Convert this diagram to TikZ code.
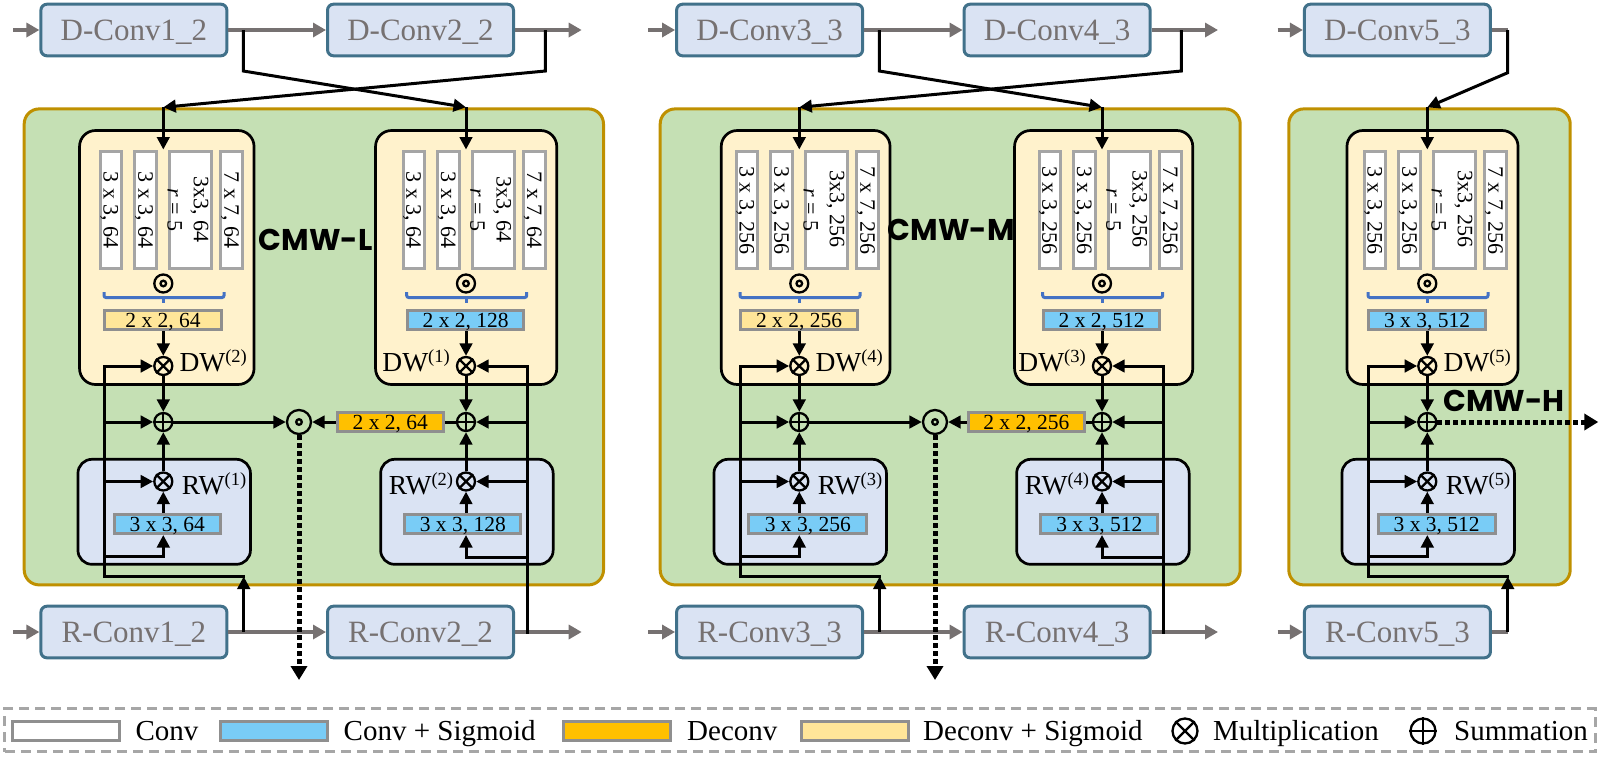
\documentclass[tikz,border=0pt]{standalone}
\usepackage{fontspec}
\setmainfont{Liberation Serif}
\newfontfamily\cmwfont{Poppins}
\usetikzlibrary{arrows.meta}
\definecolor{ggray}{HTML}{767171}
\definecolor{dblue}{HTML}{DAE3F3}
\definecolor{dborder}{HTML}{41718A}
\definecolor{pgreen}{HTML}{C5E0B4}
\definecolor{pgold}{HTML}{BF9000}
\definecolor{pyellow}{HTML}{FFF2CC}
\definecolor{colgray}{HTML}{A5A5A5}
\definecolor{kgray}{HTML}{8F8F8F}
\definecolor{cyanf}{HTML}{79CCF6}
\definecolor{yelf}{HTML}{FFE699}
\definecolor{orf}{HTML}{FFC000}
\definecolor{braceblue}{HTML}{4472C4}
\definecolor{dashgray}{HTML}{A6A6A6}
\tikzset{
 blk/.style={line width=3pt, draw=black},
 blkr/.style={line width=3pt, draw=black, line cap=rect},
 arr/.style={-{Triangle[length=12.5pt,width=12.5pt]}},
 garr/.style={draw=ggray, line width=4.5pt, -{Triangle[length=13pt,width=14pt]}},
 gline/.style={draw=ggray, line width=4.5pt},
 convbox/.style={draw=dborder, fill=dblue, line width=3pt, rounded corners=6pt, minimum width=186pt, minimum height=51.6pt, text=ggray, font=\fontsize{31}{31}\selectfont, text height=21pt, text depth=0pt, inner sep=0pt},
 panel/.style={draw=pgold, fill=pgreen, line width=3pt, rounded corners=15pt, inner sep=0pt},
 ybox/.style={draw=black, fill=pyellow, line width=2.7pt, rounded corners=16pt, inner sep=0pt},
 rbox/.style={draw=black, fill=dblue, line width=2.7pt, rounded corners=14pt, inner sep=0pt},
 col/.style={draw=colgray, fill=white, line width=3pt, inner sep=0pt, font=\fontsize{22}{27}\selectfont, text height=14.8pt, text depth=0pt},
 coltext/.style={inner sep=0pt, font=\fontsize{22}{27}\selectfont, text height=14.8pt, text depth=0pt},
 kbox/.style={draw=kgray, line width=3pt, inner sep=0pt, font=\fontsize{21.5}{27}\selectfont, text height=14.5pt, text depth=0pt, minimum height=19pt},
 opc/.style={circle, draw=black, line width=2.3pt, minimum size=18pt, inner sep=0pt},
 lab/.style={font=\fontsize{27.5}{30}\selectfont, inner sep=0pt},
 legt/.style={font=\fontsize{29}{30}\selectfont, inner sep=0pt},
 cmw/.style={font=\cmwfont\bfseries\fontsize{30}{30}\selectfont, inner sep=0pt},
 dotarr/.style={line width=5pt, line cap=butt, dash pattern=on 4.5pt off 3.5pt, -{Triangle[length=14pt,width=16pt]}},
 bracepath/.style={draw=braceblue, line width=3pt},
}
\newcommand\mysup[1]{\raisebox{9pt}{\fontsize{18.5}{18.5}\selectfont #1}}
\newcommand\opmult[3][18pt]{\node[opc, minimum size=#1] (#2) at (#3) {}; \draw[line width=2.3pt] (#2.45) -- (#2.225) (#2.135) -- (#2.315);}
\newcommand\opsum[3][18pt]{\node[opc, minimum size=#1] (#2) at (#3) {}; \draw[line width=2.3pt] (#2.north) -- (#2.south) (#2.east) -- (#2.west);}
\newcommand\opdot[3][18pt]{\node[opc, minimum size=#1] (#2) at (#3) {}; \draw[line width=2.3pt] (#2.center) circle (2.8pt);}
% yellow (DW) part: #1 channels, #2 conv text, #3 conv fill, #4 left offset of the yellow box
\newcommand\dwpart[4]{%
 \pgfmathsetmacro\tmpw{#4+92-2.5}%
 \pgfmathsetmacro\tmpx{\ax+(92-#4)/2}%
 \node[ybox, minimum width=\tmpw pt, minimum height=254pt] (\bp y) at (\tmpx,257.5) {};
 \node[col, rotate=-90, minimum width=117pt, minimum height=21.5pt] (\bp ca) at (\ax-52.25,210) {3 x 3, #1};
 \node[col, rotate=-90, minimum width=117pt, minimum height=22pt] (\bp cb) at (\ax-17.5,210) {3 x 3, #1};
 \node[col, rotate=-90, minimum width=117pt, minimum height=42pt] (\bp cc) at (\ax+27,210) {};
 \node[coltext, rotate=-90] (\bp ta) at (\ax+38,209) {3x3, #1};
 \node[coltext, rotate=-90] (\bp tb) at (\ax+11.7,210) {\textit{r} = 5};
 \node[col, rotate=-90, minimum width=117pt, minimum height=22pt] (\bp cd) at (\ax+68.5,210) {7 x 7, #1};
 \opdot{\bp o}{\ax,283.5}
 \draw[bracepath, rounded corners=2pt] (\ax-59.3,292) -- (\ax-59.3,297.5) -- (\ax+60.7,297.5) -- (\ax+60.7,292);
 \draw[bracepath] (\ax,297.5) -- (\ax,302.5);
 \node[kbox, fill=#3, minimum width=116.5pt] (\bp k) at (\ax-0.3,320.2) {#2};
 \opmult{\bp m}{\ax,366}
 \draw[blk,arr] (\bp k.south -| \bp m) -- (\bp m.north);
 \coordinate (\bp in) at (\ax,107.3);
 \coordinate (\bp top) at (\ax,149.5);
 \draw[blk,arr] (\bp in) -- (\bp top);
}
% blue (RW) part: #1 conv text, #2 left offset, #3 right offset of the conv box
\newcommand\rwpart[3]{%
 \node[rbox, minimum width=172.5pt, minimum height=105pt] (\bp r) at (\ax+0.9,511.8) {};
 \pgfmathsetmacro\tmpw{#2+#3-3}%
 \pgfmathsetmacro\tmpx{\ax+(#3-#2)/2}%
 \node[kbox, fill=cyanf, minimum width=\tmpw pt] (\bp q) at (\tmpx,524) {#1};
 \opsum{\bp s}{\ax,422}
 \opmult{\bp w}{\ax,481.5}
 \draw[blk,arr] (\bp w |- \bp q.north) -- (\bp w.south);
 \draw[blk,arr] (\bp w.north) -- (\bp s.south);
 \draw[blk,arr] (\bp m.south) -- (\bp s.north);
}
\newcommand\labsL[2]{%
 \node[lab, anchor=base west] (\bp dl) at (\ax+16,371.7) {DW\mysup{(#1)}};
 \node[lab, anchor=base west] (\bp rl) at (\ax+18.4,494) {RW\mysup{(#2)}};
}
\newcommand\labsR[2]{%
 \node[lab, anchor=base east] (\bp dl) at (\ax-16,371.7) {DW\mysup{(#1)}};
 \node[lab, anchor=base east] (\bp rl) at (\ax-12.7,494) {RW\mysup{(#2)}};
}
\newcommand\leftside{%
 \coordinate (\bp va) at (\ax-59,366);
 \coordinate (\bp vb) at (\ax-59,422);
 \coordinate (\bp vc) at (\ax-59,481.5);
 \coordinate (\bp vd) at (\ax-59,556.7);
 \coordinate (\bp ve) at (\ax-59,576.5);
 \coordinate (\bp vf) at (\ax,556.7);
 \coordinate (\bp cr) at (\ax+80.4,576.5);
 \coordinate (\bp tap) at (\ax+80.4,632);
 \draw[blkr] (\bp va) -- (\bp ve) -- (\bp cr);
 \draw[blk,arr] (\bp tap) -- (\bp cr);
 \draw[blk,arr] (\bp va) -- (\bp m);
 \draw[blk,arr] (\bp vb) -- (\bp s);
 \draw[blk,arr] (\bp vc) -- (\bp w);
 \draw[blk,arr] (\bp vd) -- (\bp vf) -- (\bp vf |- \bp q.south);
}
\newcommand\rightside{%
 \coordinate (\bp va) at (\ax+61.4,366);
 \coordinate (\bp vb) at (\ax+61.4,422);
 \coordinate (\bp vc) at (\ax+61.4,481.5);
 \coordinate (\bp vd) at (\ax+61.4,557.5);
 \coordinate (\bp vf) at (\ax,557.5);
 \coordinate (\bp tap) at (\ax+61.4,632);
 \draw[blkr] (\bp tap) -- (\bp va);
 \draw[blk,arr] (\bp va) -- (\bp m);
 \draw[blk,arr] (\bp vb) -- (\bp s);
 \draw[blk,arr] (\bp vc) -- (\bp w);
 \draw[blk,arr] (\bp vd) -- (\bp vf) -- (\bp vf |- \bp q.south);
}
\begin{document}
\begin{tikzpicture}[x=1pt,y=-1pt]
\useasboundingbox (0,0) rectangle (1614,764);
% panels
\node[panel, minimum width=579.3pt, minimum height=476pt] (PL) at (313.85,346.9) {};
\node[panel, minimum width=580pt, minimum height=476pt] (PM) at (950.2,346.9) {};
\node[panel, minimum width=281.4pt, minimum height=476pt] (PH) at (1429.5,346.9) {};
% conv rows
\node[convbox] (D1) at (133.9,30) {D-Conv1\_2};
\node[convbox] (D2) at (420.5,30) {D-Conv2\_2};
\node[convbox] (D3) at (769.6,30) {D-Conv3\_3};
\node[convbox] (D4) at (1057.1,30) {D-Conv4\_3};
\node[convbox] (D5) at (1397.4,30) {D-Conv5\_3};
\node[convbox] (R1) at (133.9,632) {R-Conv1\_2};
\node[convbox] (R2) at (420.5,632) {R-Conv2\_2};
\node[convbox] (R3) at (769.6,632) {R-Conv3\_3};
\node[convbox] (R4) at (1057.1,632) {R-Conv4\_3};
\node[convbox] (R5) at (1397.4,632) {R-Conv5\_3};
\coordinate (tin1) at (13,30); \coordinate (tout1) at (581.7,30);
\coordinate (tin2) at (648.3,30); \coordinate (tout2) at (1218,30);
\coordinate (tin3) at (1277.7,30); \coordinate (tstub) at (1507.7,30);
\coordinate (bin1) at (13,632); \coordinate (bout1) at (581.7,632);
\coordinate (bin2) at (648.3,632); \coordinate (bout2) at (1218,632);
\coordinate (bin3) at (1277.7,632); \coordinate (bstub) at (1507.7,632);
\draw[garr] (tin1) -- (D1); \draw[garr] (D1) -- (D2); \draw[garr] (D2) -- (tout1);
\draw[garr] (tin2) -- (D3); \draw[garr] (D3) -- (D4); \draw[garr] (D4) -- (tout2);
\draw[garr] (tin3) -- (D5); \draw[gline] (D5) -- (tstub);
\draw[garr] (bin1) -- (R1); \draw[garr] (R1) -- (R2); \draw[garr] (R2) -- (bout1);
\draw[garr] (bin2) -- (R3); \draw[garr] (R3) -- (R4); \draw[garr] (R4) -- (bout2);
\draw[garr] (bin3) -- (R5); \draw[gline] (R5) -- (bstub);
% L1
\def\ax{163.3}\def\bp{L1}
\dwpart{64}{2 x 2, 64}{yelf}{85}
\rwpart{3 x 3, 64}{50.6}{58.7}
\labsL{2}{1}
\leftside
% L2
\def\ax{466}\def\bp{L2}
\dwpart{64}{2 x 2, 128}{cyanf}{91.7}
\rwpart{3 x 3, 128}{62.7}{56.4}
\labsR{1}{2}
\rightside
% M1
\def\ax{799.3}\def\bp{M1}
\dwpart{256}{2 x 2, 256}{yelf}{79.3}
\rwpart{3 x 3, 256}{52}{69}
\labsL{4}{3}
\leftside
% M2
\def\ax{1102}\def\bp{M2}
\dwpart{256}{2 x 2, 512}{cyanf}{88.7}
\rwpart{3 x 3, 512}{62.7}{57.3}
\labsR{3}{4}
\rightside
% H
\def\ax{1427.3}\def\bp{H}
\dwpart{256}{3 x 3, 512}{cyanf}{81.6}
\rwpart{3 x 3, 512}{50.6}{69.4}
\labsL{5}{5}
\leftside
% crossing inputs
\coordinate (LdA) at (243.3,30); \coordinate (LdAk) at (243.3,71);
\coordinate (LdB) at (545.4,30); \coordinate (LdBk) at (545.4,71);
\draw[blk,arr] (LdA) -- (LdAk) -- (L2in);
\draw[blk,arr] (LdB) -- (LdBk) -- (L1in);
\coordinate (MdA) at (879.3,30); \coordinate (MdAk) at (879.3,71);
\coordinate (MdB) at (1181.4,30); \coordinate (MdBk) at (1181.4,71);
\draw[blk,arr] (MdA) -- (MdAk) -- (M2in);
\draw[blk,arr] (MdB) -- (MdBk) -- (M1in);
\coordinate (HdA) at (1507.7,30); \coordinate (HdAk) at (1507.7,72.7);
\draw[blk,arr] (HdA) -- (HdAk) -- (Hin);
% middle fusion
\opdot[24pt]{Lo}{299,422}
\node[kbox, fill=orf, minimum width=106.3pt, minimum height=18.6pt] (Lor) at (390.35,422) {2 x 2, 64};
\draw[blk] (L2s) -- (Lor);
\draw[blk,arr] (Lor) -- (Lo);
\draw[blk,arr] (L1s) -- (Lo);
\coordinate (Lend) at (299,680);
\draw[dotarr] (Lo) -- (Lend);
\opdot[24pt]{Mo}{935,422}
\node[kbox, fill=orf, minimum width=116.3pt, minimum height=19pt] (Mor) at (1026.35,422) {2 x 2, 256};
\draw[blk] (M2s) -- (Mor);
\draw[blk,arr] (Mor) -- (Mo);
\draw[blk,arr] (M1s) -- (Mo);
\coordinate (Mend) at (935,680);
\draw[dotarr] (Mo) -- (Mend);
\coordinate (Hend) at (1598.3,422);
\draw[dotarr] (Hs) -- (Hend);
% titles
\node[cmw, anchor=base] (cmwL) at (315.5,250.7) {CMW-L};
\node[cmw, anchor=base] (cmwM) at (951.2,240) {CMW-M};
\node[cmw, anchor=base] (cmwH) at (1504,411.7) {CMW-H};
% legend
\node[draw=dashgray, line width=3pt, dash pattern=on 10pt off 6pt, minimum width=1590.7pt, minimum height=43pt, inner sep=0pt] (leg) at (800.15,730.3) {};
\node[kbox, fill=white, minimum width=107pt, minimum height=18.7pt] (lgA) at (66.4,731) {};
\node[kbox, fill=cyanf, minimum width=107pt, minimum height=18.7pt] (lgB) at (274.25,731) {};
\node[kbox, fill=orf, minimum width=107pt, minimum height=18.7pt] (lgC) at (616.75,731) {};
\node[kbox, fill=yelf, minimum width=107pt, minimum height=18.7pt] (lgD) at (855.3,731) {};
\node[legt, anchor=base west] (lgAt) at (135.3,740.3) {Conv};
\node[legt, anchor=base west] (lgBt) at (343.5,740.3) {Conv + Sigmoid};
\node[legt, anchor=base west] (lgCt) at (687,740.3) {Deconv};
\node[legt, anchor=base west] (lgDt) at (923,740.3) {Deconv + Sigmoid};
\opmult[25pt]{lgM}{1185,731}
\node[legt, anchor=base west] (lgMt) at (1212.8,740.3) {Multiplication};
\opsum[25pt]{lgS}{1423,731}
\node[legt, anchor=base west] (lgSt) at (1454,740.3) {Summation};
\end{tikzpicture}
\end{document}
